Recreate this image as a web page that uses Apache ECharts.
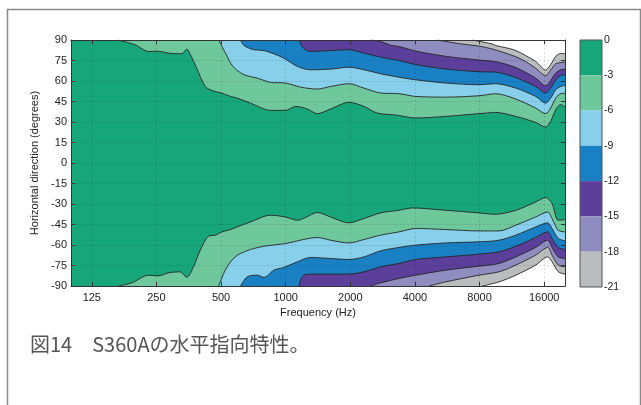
<!DOCTYPE html>
<html>
<head>
<meta charset="utf-8">
<script src="https://cdn.jsdelivr.net/npm/echarts@6/dist/echarts.min.js"></script>
<style>
  html, body { margin: 0; padding: 0; background: #fff; }
  #chart { width: 641px; height: 405px; }
</style>
</head>
<body>
<div id="chart"></div>
<script>
// frequency tick labels (Hz) and contour levels (dB)
const freqTicks = [125, 250, 500, 1000, 2000, 4000, 8000, 16000]
const levels = [0, -3, -6, -9, -12, -15, -18, -21]
const bandColors = ['#17a67a', '#6fc79c', '#87cfea', '#1a80c4', '#5b3f9a', '#8f8cc0', '#bbbcbe']

// contour boundaries [frequency Hz, angle deg], upper half
const top3 = [[166, 90], [199, 86.5], [230, 81.6], [255, 81.8], [284, 80.4], [328, 79.9], [346, 83.3], [360, 79.2], [385, 69.4], [422, 56], [453, 53.1], [504, 51.1], [554, 48.7], [593, 47.5], [686, 43.8], [850, 38.5], [1000, 38.5], [1112, 41.4], [1261, 39.5], [1404, 36.1], [1619, 39.5], [1973, 44.4], [2315, 41.4], [2671, 36.5], [3300, 35], [4030, 32.9], [5560, 34.1], [7950, 36.1], [9500, 37], [11800, 34.1], [14600, 29.7], [16260, 26.3], [17150, 30.5], [18100, 39], [19100, 42.7], [20000, 41]]
const top6 = [[487, 90], [510, 84], [530, 79], [554, 73], [582, 69], [639, 64.6], [737, 62.1], [850, 59], [1000, 58.5], [1175, 55.5], [1404, 54.1], [1619, 56], [1973, 58], [2315, 54.8], [2768, 51.2], [3370, 50.7], [4030, 48.7], [5560, 48.2], [7950, 49.2], [9500, 50.7], [11800, 46.8], [14600, 40.2], [16260, 36.1], [17150, 40.2], [18100, 47.5], [19100, 50.7], [20000, 51]]
const top9 = [[616, 90], [639, 86], [710, 82.9], [792, 82.3], [881, 79.9], [981, 76.7], [1133, 70.7], [1306, 68.2], [1619, 68.7], [1973, 70.1], [2315, 68.2], [2768, 65.3], [3370, 62.8], [4030, 60.9], [5560, 58.5], [7950, 57.3], [9500, 58], [11800, 54.8], [14600, 48.7], [16260, 43.8], [17150, 47.5], [18100, 53.6], [19100, 56], [20000, 56.7]]
const top12 = [[1153, 90], [1210, 84], [1306, 81.6], [1619, 82.3], [1973, 82.9], [2315, 80.4], [2768, 77.5], [3370, 75], [4030, 72], [5560, 68.8], [7950, 66.8], [9500, 66.5], [11800, 62.5], [14600, 56], [16260, 51.2], [17150, 54.8], [18100, 60.9], [19100, 63.9], [20000, 64.6]]
const top15 = [[2486, 90], [2768, 88.9], [3100, 86], [3370, 85.3], [4000, 82], [5600, 78], [8000, 75.3], [9600, 74], [11800, 69.8], [14600, 62.1], [16260, 56.5], [17150, 60.4], [18100, 65.8], [19100, 68.2], [20000, 68.7]]
const top18 = [[5080, 90], [6530, 87.2], [8100, 85.3], [9700, 82.3], [12400, 76.3], [14600, 69.4], [16260, 63.9], [17150, 68], [18100, 72.6], [19100, 73.5], [20000, 73.8]]
const top21 = [[7400, 90], [9100, 87.2], [9500, 86], [11700, 82.5], [14600, 74.3], [16260, 68], [17150, 72], [18100, 78], [19100, 80.2], [20000, 80]]

// lower half
const bot3 = [[166, -90], [192, -87.7], [230, -82.1], [255, -82.6], [284, -80.4], [322, -79.6], [346, -83.7], [372, -76], [400, -63.8], [437, -53.6], [471, -52.8], [504, -50.4], [554, -48.7], [593, -46.8], [686, -43.1], [850, -38.2], [1000, -39.5], [1133, -41.9], [1238, -39.9], [1404, -36.2], [1619, -39.5], [1973, -43.8], [2315, -40.6], [2768, -36.5], [3370, -34.6], [3890, -32.9], [5560, -34.6], [7950, -36.5], [9500, -37.5], [11800, -34.6], [14600, -28.5], [16260, -25.3], [17400, -29.7], [18600, -41.9], [20000, -41.4]]
const bot6 = [[487, -90], [523, -78.4], [554, -72.3], [582, -68.7], [616, -66.2], [686, -63.3], [792, -60.9], [1000, -58.9], [1210, -56], [1404, -54.5], [1619, -56.5], [1973, -58.5], [2315, -56], [2768, -52.8], [3370, -50.4], [4030, -47.9], [5560, -48.7], [7950, -49.7], [9850, -49.7], [11800, -45.5], [14600, -39.5], [16600, -35.8], [17400, -40.6], [18600, -49.2], [20000, -50.4]]
const bot9 = [[616, -90], [662, -83.3], [737, -82.1], [792, -83.7], [881, -78.4], [981, -76.4], [1133, -72.3], [1306, -69.1], [1619, -69.9], [1973, -70.6], [2315, -68.7], [2768, -64.3], [3370, -61.8], [4030, -60.1], [5560, -58.5], [7950, -57.7], [9850, -56.5], [11800, -52.8], [14600, -46.8], [16600, -43.8], [17400, -47.9], [18600, -55.2], [20000, -57]]
const bot12 = [[1153, -90], [1210, -82.1], [1374, -81.3], [1619, -81.3], [1973, -81.3], [2315, -79.6], [2768, -76], [3370, -73.5], [4030, -70.6], [5560, -68.7], [7950, -66.7], [9850, -65], [11800, -60.9], [14600, -54.5], [16600, -50.4], [17400, -55.2], [18600, -61.8], [20000, -63.3]]
const bot15 = [[2486, -90], [2768, -87.7], [3370, -84.5], [4030, -82.1], [5560, -78.4], [7950, -75.5], [9850, -73.5], [11800, -68.7], [14600, -61.8], [16600, -56.5], [17400, -61.8], [18600, -68.7], [20000, -69.9]]
const bot18 = [[4650, -90], [5560, -87], [7950, -82.1], [9850, -79.6], [11800, -74.7], [14600, -67.4], [16600, -61.8], [17400, -67.4], [18600, -74.7], [20000, -76]]
const bot21 = [[8250, -90], [9850, -87], [11800, -82.1], [14600, -74.7], [16600, -68.7], [17400, -72.3], [18600, -79.6], [20000, -81.3]]

const topBounds = [top3, top6, top9, top12, top15, top18, top21]
const botBounds = [bot3, bot6, bot9, bot12, bot15, bot18, bot21]

// x axis works on octaves relative to 125 Hz
const toOct = f => Math.log2(f / freqTicks[0])
const fillColors = bandColors.slice(1).concat(['#ffffff'])

const chart = echarts.init(document.getElementById('chart'), null, { renderer: 'canvas' })

const contourSeries = []
topBounds.forEach((b, i) => {
  contourSeries.push({
    type: 'line', xAxisIndex: 0, yAxisIndex: 0,
    data: b.map(p => [toOct(p[0]), p[1]]),
    smooth: 0.3, symbol: 'none', silent: true,
    lineStyle: { color: '#262626', width: 0.9 },
    areaStyle: { color: fillColors[i], opacity: 1, origin: 'end' }
  })
})
botBounds.forEach((b, i) => {
  contourSeries.push({
    type: 'line', xAxisIndex: 0, yAxisIndex: 0,
    data: b.map(p => [toOct(p[0]), p[1]]),
    smooth: 0.3, symbol: 'none', silent: true,
    lineStyle: { color: '#262626', width: 0.9 },
    areaStyle: { color: fillColors[i], opacity: 1, origin: 'start' }
  })
})

// colorbar: stacked bars, one per band
const barSeries = bandColors.map(c => ({
  type: 'bar', xAxisIndex: 2, yAxisIndex: 2, stack: 'cb',
  data: [levels[1] - levels[0]], barWidth: '100%', silent: true,
  itemStyle: { color: c }
}))

const labelStyle = { fontFamily: 'Liberation Sans', fontSize: 11, color: '#222' }
const gridLine = { show: true, lineStyle: { color: 'rgba(0,0,0,0.16)', type: [2, 2], width: 0.8 } }
const frameLine = { show: true, onZero: false, lineStyle: { color: '#333', width: 1 } }

const option = {
  animation: false,
  backgroundColor: '#fff',
  grid: [
    { left: 71, top: 40, width: 494, height: 246, show: true, backgroundColor: bandColors[0], borderWidth: 0 },
    { left: 580, top: 40, width: 22, height: 247, show: true, z: 10, backgroundColor: 'transparent', borderColor: '#555', borderWidth: 1 }
  ],
  xAxis: [
    {
      type: 'value', gridIndex: 0, z: 10,
      min: toOct(100), max: toOct(20000), minInterval: 1, maxInterval: 1,
      axisLine: frameLine,
      axisTick: { show: true, inside: true, length: 4, lineStyle: { color: '#333' } },
      splitLine: gridLine,
      axisLabel: Object.assign({}, labelStyle, {
        margin: 6, showMinLabel: false, showMaxLabel: false,
        formatter: v => String(Math.round(freqTicks[0] * Math.pow(2, v)))
      }),
      name: 'Frequency (Hz)', nameLocation: 'middle', nameGap: 18,
      nameTextStyle: labelStyle
    },
    {
      type: 'value', gridIndex: 0, z: 10, position: 'top',
      min: toOct(100), max: toOct(20000), minInterval: 1, maxInterval: 1,
      axisLine: frameLine,
      axisTick: { show: true, inside: true, length: 4, lineStyle: { color: '#333' } },
      splitLine: { show: false }, axisLabel: { show: false }
    },
    {
      type: 'category', gridIndex: 1, data: ['bar'], show: false
    }
  ],
  yAxis: [
    {
      type: 'value', gridIndex: 0, z: 10,
      min: -90, max: 90, interval: 15,
      axisLine: frameLine,
      axisTick: { show: true, inside: true, length: 4, lineStyle: { color: '#333' } },
      splitLine: gridLine,
      axisLabel: Object.assign({}, labelStyle, { margin: 4 }),
      name: 'Horizontal direction (degrees)', nameLocation: 'middle', nameGap: 26,
      nameTextStyle: labelStyle
    },
    {
      type: 'value', gridIndex: 0, z: 10, position: 'right',
      min: -90, max: 90, interval: 15,
      axisLine: frameLine,
      axisTick: { show: true, inside: true, length: 4, lineStyle: { color: '#333' } },
      splitLine: { show: false }, axisLabel: { show: false }
    },
    {
      type: 'value', gridIndex: 1, position: 'right',
      min: levels[levels.length - 1], max: levels[0], interval: 3,
      axisLine: { show: false }, axisTick: { show: false }, splitLine: { show: false },
      axisLabel: Object.assign({}, labelStyle, { margin: 2, fontSize: 10.5 })
    }
  ],
  graphic: [
    {
      type: 'rect', left: 5, top: 7, silent: true,
      shape: { width: 633, height: 420 },
      style: { fill: 'none', stroke: '#8a8a8a', lineWidth: 1.5 }
    },
    {
      type: 'text', left: 30, top: 334, silent: true,
      style: {
        text: '図14　S360Aの水平指向特性。',
        font: '20px "Noto Sans CJK JP"', fill: '#555'
      }
    }
  ],
  series: contourSeries.concat(barSeries)
}

chart.setOption(option)
</script>
</body>
</html>
